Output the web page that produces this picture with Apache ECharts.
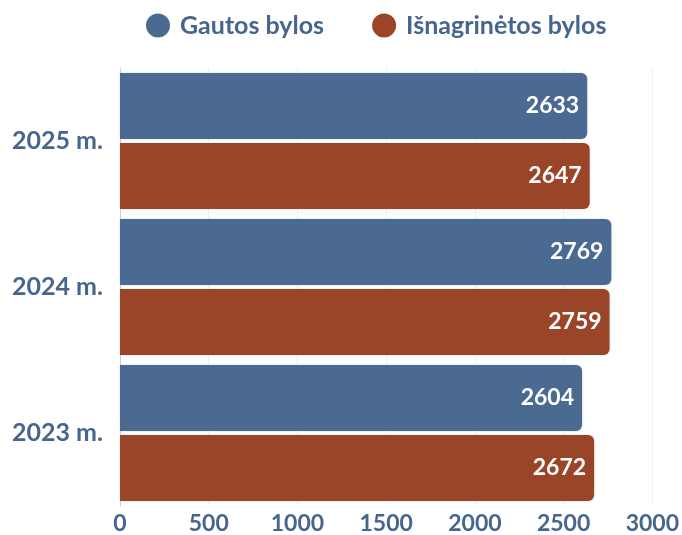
<!DOCTYPE html>
<html>
<head>
<meta charset="utf-8">
<script src="https://cdn.jsdelivr.net/npm/echarts@6/dist/echarts.min.js"></script>
<style>
  html, body { margin: 0; padding: 0; background: #fff; }
  #chart { width: 682px; height: 535px; }
</style>
</head>
<body>
<div id="chart"></div>
<script>
const years = ["2025 m.", "2024 m.", "2023 m."];
const gautos = [2633, 2769, 2604];
const isnagrinetos = [2647, 2759, 2672];
const xTicks = [0, 500, 1000, 1500, 2000, 2500, 3000];

const BLUE = "#4a6a92";
const RUST = "#9a4527";
const TEXT = "#46658f";
const FONT = "Lato, 'Open Sans', sans-serif";

const chart = echarts.init(document.getElementById("chart"));

// label + bar style shared by both series
function barSeries(name, data, color) {
  return {
    name: name,
    type: "bar",
    data: data,
    barWidth: 66,
    barGap: "6%",
    itemStyle: {
      color: color,
      borderRadius: [0, 6, 6, 0],
      shadowColor: "rgba(60,80,110,0.25)",
      shadowBlur: 2
    },
    label: {
      show: true,
      position: "insideRight",
      distance: 8,
      color: "#fff",
      fontFamily: FONT,
      fontWeight: "bold",
      fontSize: 23
    }
  };
}

chart.setOption({
  animation: false,
  legend: {
    top: 8,
    left: 141,
    itemGap: 48,
    itemWidth: 24,
    itemHeight: 24,
    icon: "circle",
    textStyle: {
      color: TEXT, fontFamily: FONT, fontWeight: "bold", fontSize: 25,
      padding: [0, 0, 0, 5]
    }
  },
  grid: { left: 120, right: 29, top: 68, bottom: 29, containLabel: false },
  xAxis: {
    type: "value",
    min: xTicks[0],
    max: xTicks[xTicks.length - 1],
    interval: 500,
    axisLine: { show: false },
    axisTick: { show: false },
    splitLine: { show: true, lineStyle: { color: "#eef0f3", width: 1 } },
    axisLabel: {
      color: TEXT, fontFamily: FONT, fontWeight: "bold", fontSize: 23, margin: 6,
      formatter: v => String(v)
    }
  },
  yAxis: {
    type: "category",
    inverse: true,
    data: years,
    axisLine: { show: true, lineStyle: { color: "#c5d2e2", width: 1 } },
    axisTick: { show: false },
    axisLabel: { color: TEXT, fontFamily: FONT, fontWeight: "bold", fontSize: 25, margin: 17 }
  },
  series: [
    barSeries("Gautos bylos", gautos, BLUE),
    barSeries("Išnagrinėtos bylos", isnagrinetos, RUST)
  ]
});
</script>
</body>
</html>
